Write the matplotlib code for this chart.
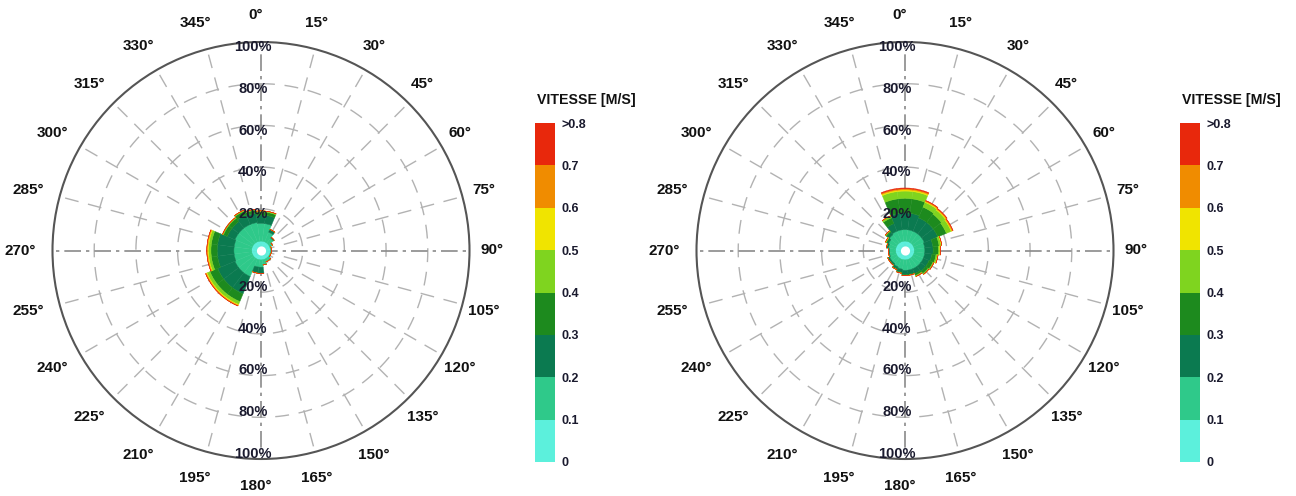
import numpy as np
import matplotlib
matplotlib.use("Agg")
import matplotlib.pyplot as plt
import matplotlib.transforms as mtransforms
from matplotlib.colors import ListedColormap, BoundaryNorm
from matplotlib.cm import ScalarMappable

plt.rcParams['font.family'] = ['Liberation Sans', 'DejaVu Sans']
plt.rcParams['font.weight'] = 'bold'

# Direction bins (degrees, clockwise from north), 15-degree sectors
directions = [0, 15, 30, 45, 60, 75, 90, 105, 120, 135, 150, 165,
              180, 195, 210, 225, 240, 255, 270, 285, 300, 315, 330, 345]

# Speed classes [m/s] and their colours
speed_bounds = [0, 0.1, 0.2, 0.3, 0.4, 0.5, 0.6, 0.7, 0.8]
speed_labels = ['0', '0.1', '0.2', '0.3', '0.4', '0.5', '0.6', '0.7', '>0.8']
speed_colors = ['#5cf0dc', '#2fc98a', '#0b7a50', '#1d8a1e',
                '#7fd41f', '#f0e400', '#f08c00', '#e8280c']

# Frequency (%) per direction for each speed class - left station
left_c1 = [4.5, 4.5, 4.5, 4.5, 4.5, 4.5, 4.5, 4.5, 4.5, 4.5, 4.5, 4.5,
           4.5, 4.5, 4.5, 4.5, 4.5, 4.5, 4.5, 4.5, 4.5, 4.5, 4.5, 4.5]
left_c2 = [8.5, 8.5, 5.0, 3.0, 1.5, 0.5, 0.5, 0.5, 0.5, 1.5, 1.5, 2.5,
           3.5, 3.5, 9.0, 9.0, 9.0, 8.5, 8.5, 8.5, 9.0, 9.0, 9.0, 9.0]
left_c3 = [4.0, 4.0, 1.5, 0.5, 0.0, 0.0, 0.0, 0.0, 0.0, 0.0, 0.0, 0.0,
           3.0, 3.0, 9.0, 9.0, 9.0, 8.0, 8.0, 8.0, 4.0, 4.0, 5.0, 4.5]
left_c4 = [1.5, 1.5, 0.0, 0.0, 0.0, 0.0, 0.0, 0.0, 0.0, 0.0, 0.0, 0.0,
           0.0, 0.0, 4.0, 4.0, 4.0, 3.0, 3.0, 3.0, 2.0, 2.0, 2.0, 1.5]
left_c5 = [0.5, 0.5, 0.0, 0.0, 0.0, 0.0, 0.0, 0.0, 0.0, 0.0, 0.0, 0.0,
           0.0, 0.0, 1.5, 1.5, 1.5, 1.2, 1.2, 1.2, 0.5, 0.5, 0.5, 0.5]
left_c6 = [0.0, 0.0, 0.0, 0.0, 0.0, 0.0, 0.0, 0.0, 0.0, 0.0, 0.0, 0.0,
           0.0, 0.0, 0.4, 0.4, 0.4, 0.4, 0.4, 0.4, 0.0, 0.0, 0.0, 0.0]
left_c7 = [0.0, 0.0, 0.0, 0.0, 0.0, 0.0, 0.0, 0.0, 0.0, 0.0, 0.0, 0.0,
           0.0, 0.0, 0.4, 0.4, 0.4, 0.4, 0.4, 0.4, 0.0, 0.0, 0.0, 0.0]
left_c8 = [0.0, 0.0, 0.0, 0.0, 0.0, 0.0, 0.0, 0.0, 0.0, 0.0, 0.0, 0.0,
           0.0, 0.0, 0.0, 0.0, 0.0, 0.0, 0.0, 0.0, 0.0, 0.0, 0.0, 0.0]

# Frequency (%) per direction for each speed class - right station
right_c1 = [4.5, 4.5, 4.5, 4.5, 4.5, 4.5, 4.5, 4.5, 4.5, 4.5, 4.5, 4.5,
            4.5, 4.5, 4.5, 4.5, 4.5, 4.5, 4.5, 4.5, 4.5, 4.5, 4.5, 4.5]
right_c2 = [5.5, 5.5, 5.5, 5.5, 5.5, 5.0, 5.0, 5.0, 5.0, 5.0, 5.0, 5.0,
            5.0, 4.5, 4.0, 3.5, 3.5, 3.0, 3.0, 3.5, 4.0, 5.0, 5.5, 5.5]
right_c3 = [8.0, 8.0, 7.0, 7.0, 7.0, 4.0, 4.0, 3.5, 3.0, 3.0, 2.5, 2.0,
            2.0, 1.5, 1.0, 0.8, 0.8, 0.5, 0.5, 0.8, 1.0, 1.5, 4.0, 8.0]
right_c4 = [7.0, 7.0, 5.5, 5.0, 4.5, 3.0, 2.5, 2.0, 2.0, 1.5, 1.0, 0.5,
            0.5, 0.5, 0.5, 0.2, 0.2, 0.0, 0.0, 0.2, 0.3, 0.6, 3.0, 7.0]
right_c5 = [3.5, 3.5, 2.5, 2.5, 2.5, 1.0, 0.7, 0.7, 0.5, 0.5, 0.5, 0.0,
            0.0, 0.0, 0.0, 0.0, 0.0, 0.0, 0.0, 0.0, 0.2, 0.4, 1.0, 3.5]
right_c6 = [0.6, 0.6, 0.4, 0.4, 0.4, 0.3, 0.3, 0.3, 0.0, 0.0, 0.0, 0.0,
            0.0, 0.0, 0.0, 0.0, 0.0, 0.0, 0.0, 0.0, 0.2, 0.0, 0.0, 0.6]
right_c7 = [0.5, 0.5, 0.4, 0.4, 0.4, 0.0, 0.0, 0.0, 0.0, 0.0, 0.0, 0.0,
            0.0, 0.0, 0.0, 0.0, 0.0, 0.0, 0.0, 0.0, 0.0, 0.0, 0.0, 0.5]
right_c8 = [0.4, 0.4, 0.2, 0.2, 0.2, 0.0, 0.0, 0.0, 0.0, 0.0, 0.0, 0.0,
            0.0, 0.0, 0.0, 0.0, 0.0, 0.0, 0.0, 0.0, 0.0, 0.0, 0.0, 0.4]

left_classes = [left_c1, left_c2, left_c3, left_c4, left_c5, left_c6, left_c7, left_c8]
right_classes = [right_c1, right_c2, right_c3, right_c4, right_c5, right_c6, right_c7, right_c8]

angle_ticks = list(range(0, 360, 15))
radial_ticks = [20, 40, 60, 80, 100]

GRID = '#b2b2b2'
TEXT = '#1a1a2e'


def draw_rose(fig, ax, classes):
    ax.set_theta_zero_location('N')
    ax.set_theta_direction(-1)
    ax.set_ylim(0, 100)
    ax.set_xticks([])
    ax.set_yticks([])
    ax.grid(False)
    ax.spines['polar'].set_color('#555555')
    ax.spines['polar'].set_linewidth(1.5)

    # dashed grid: circles and 15-degree spokes
    th = np.linspace(0, 2 * np.pi, 721)
    for r in radial_ticks[:-1]:
        ax.plot(th, np.full_like(th, r), color=GRID, lw=1.0,
                dashes=(10, 7), zorder=1)
    for a in angle_ticks:
        t = np.deg2rad(a)
        if a % 90 == 0:
            ax.plot([t, t], [0, 100], color='#8a8a8a', lw=1.2,
                    dashes=(10, 3, 2, 3), zorder=1)
        else:
            ax.plot([t, t], [0, 100], color=GRID, lw=1.0,
                    dashes=(10, 7), zorder=1)

    # stacked speed-class sectors
    theta = np.deg2rad(directions)
    width = np.deg2rad(15)
    bottom = np.zeros(len(directions))
    for vals, col in zip(classes, speed_colors):
        vals = np.asarray(vals, dtype=float)
        ax.bar(theta, vals, width=width, bottom=bottom, color=col,
               edgecolor=col, linewidth=0.3, zorder=2)
        bottom += vals

    # calm hole at the centre
    ax.fill_between(th, 0, 2.2, color='white', zorder=3, lw=0)

    # radial percentage labels along the N-S axis
    shift_r = ax.transData + mtransforms.ScaledTranslation(-8 / 100, 0, fig.dpi_scale_trans)
    for r in radial_ticks:
        for a in (0, 180):
            ax.text(np.deg2rad(a), r - 2.5, f'{r}%', ha='center', va='center',
                    fontsize=10.5, color=TEXT, zorder=5, transform=shift_r)

    # direction labels around the rim
    shift_a = ax.transData + mtransforms.ScaledTranslation(-5 / 100, 0, fig.dpi_scale_trans)
    for a in angle_ticks:
        ax.text(np.deg2rad(a), 113, f'{a}\u00b0', ha='center', va='center',
                fontsize=11, color='#111111', clip_on=False, transform=shift_a)


def draw_colorbar(fig, rect, title_xy):
    cax = fig.add_axes(rect)
    cmap = ListedColormap(speed_colors)
    norm = BoundaryNorm(speed_bounds, cmap.N)
    cb = fig.colorbar(ScalarMappable(norm=norm, cmap=cmap), cax=cax,
                      ticks=speed_bounds, spacing='uniform')
    cb.set_ticklabels(speed_labels)
    cb.outline.set_visible(False)
    cax.tick_params(length=0, labelsize=9, pad=5, labelcolor=TEXT)
    for lab in cax.get_yticklabels():
        lab.set_fontweight('bold')
    fig.text(title_xy[0], title_xy[1], 'VITESSE [M/S]', fontsize=10.2,
             fontweight='bold', color='#111111', ha='left', va='center')


fig = plt.figure(figsize=(12.96, 4.96), dpi=100)

W, H = 1296.0, 496.0
R = 208.5
for cx, classes in ((261.0, left_classes), (905.0, right_classes)):
    ax = fig.add_axes([(cx - R) / W, (H - 250.5 - R) / H, 2 * R / W, 2 * R / H],
                      projection='polar')
    draw_rose(fig, ax, classes)

draw_colorbar(fig, [535 / W, (H - 462) / H, 20 / W, 339 / H], (537 / W, (H - 100) / H))
draw_colorbar(fig, [1180 / W, (H - 462) / H, 20 / W, 339 / H], (1182 / W, (H - 100) / H))

fig.savefig('out.png', dpi=100)
